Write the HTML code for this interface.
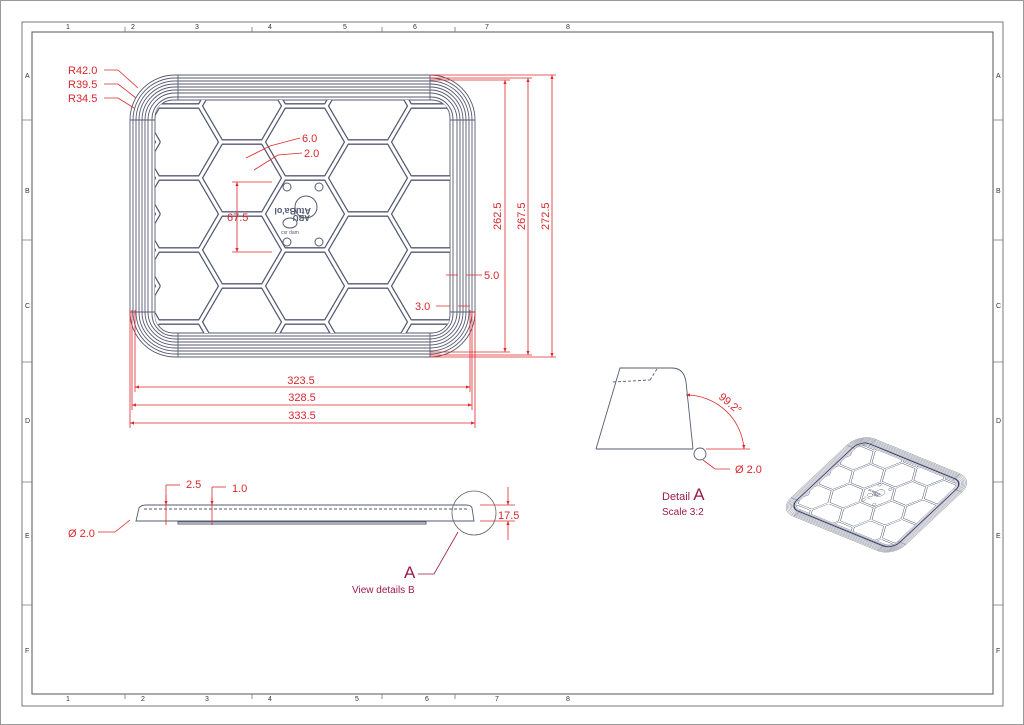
<!DOCTYPE html>
<html><head><meta charset="utf-8"><style>
html,body{margin:0;padding:0;background:#fff;}
svg{display:block;font-family:"Liberation Sans",sans-serif;}
.r{fill:#d9262c;font-size:11px;}
.m{fill:#9b1b4a;}
.dim{stroke:#e0282e;stroke-width:0.8;fill:none;}
.fr{fill:#333;font-size:7px;}
</style></head><body>
<svg width="1024" height="725" viewBox="0 0 1024 725" xmlns="http://www.w3.org/2000/svg">
<defs>
<marker id="ar" viewBox="0 0 10 10" refX="10" refY="5" markerWidth="7" markerHeight="5" orient="auto-start-reverse"><path d="M0,1 L10,5 L0,9z" fill="#e0282e"/></marker>
<clipPath id="cav"><rect x="155" y="100" width="295" height="233" rx="18"/></clipPath>
<g id="hc">
<g transform="translate(116,70)"><polygon id="hx" points="-42,0 -21,-36 21,-36 42,0 21,36 -21,36"/></g>
<use href="#hx" x="116" y="142"/><use href="#hx" x="116" y="214"/><use href="#hx" x="116" y="286"/><use href="#hx" x="116" y="358"/>
<use href="#hx" x="179" y="70"/><use href="#hx" x="179" y="142"/><use href="#hx" x="179" y="214"/><use href="#hx" x="179" y="286"/><use href="#hx" x="179" y="358"/>
<use href="#hx" x="242" y="34"/><use href="#hx" x="242" y="106"/><use href="#hx" x="242" y="178"/><use href="#hx" x="242" y="250"/><use href="#hx" x="242" y="322"/><use href="#hx" x="242" y="394"/>
<use href="#hx" x="305" y="70"/><use href="#hx" x="305" y="142"/><use href="#hx" x="305" y="214"/><use href="#hx" x="305" y="286"/><use href="#hx" x="305" y="358"/>
<use href="#hx" x="368" y="34"/><use href="#hx" x="368" y="106"/><use href="#hx" x="368" y="178"/><use href="#hx" x="368" y="250"/><use href="#hx" x="368" y="322"/><use href="#hx" x="368" y="394"/>
<use href="#hx" x="431" y="70"/><use href="#hx" x="431" y="142"/><use href="#hx" x="431" y="214"/><use href="#hx" x="431" y="286"/><use href="#hx" x="431" y="358"/>
<use href="#hx" x="494" y="34"/><use href="#hx" x="494" y="106"/><use href="#hx" x="494" y="178"/><use href="#hx" x="494" y="250"/><use href="#hx" x="494" y="322"/><use href="#hx" x="494" y="394"/>
</g>
<g id="tray">
<g fill="none" stroke="#555b72" stroke-width="0.9">
<rect x="130" y="75" width="345" height="282" rx="45"/>
<rect x="133" y="78" width="339" height="276" rx="42"/>
<rect x="136" y="81" width="333" height="270" rx="39"/>
<rect x="139" y="84" width="327" height="264" rx="36"/>
<rect x="142" y="87" width="321" height="258" rx="33"/>
<rect x="145" y="90" width="315" height="252" rx="30"/>
<rect x="148" y="93" width="309" height="246" rx="27"/>
<rect x="152" y="97" width="301" height="239" rx="22"/>
<rect x="155" y="100" width="295" height="233" rx="18"/>
<path d="M178,75 V100 M430,75 V100 M178,333 V357 M430,333 V357 M130,120 H155 M130,312 H155 M450,120 H475 M450,312 H475"/>
</g>
<g clip-path="url(#cav)" fill="none">
<use href="#hc" stroke="#555b72" stroke-width="5.5" stroke-linejoin="round"/>
<use href="#hc" stroke="#fff" stroke-width="3" stroke-linejoin="round"/>
</g>
<g fill="none" stroke="#555b72" stroke-width="1">
<circle cx="287" cy="187" r="4"/><circle cx="319" cy="187" r="4"/><circle cx="287" cy="242" r="4"/><circle cx="319" cy="242" r="4"/>
<circle cx="306" cy="207" r="11"/><ellipse cx="290" cy="223" rx="7" ry="5"/>
</g>
<text x="297" y="208" font-size="9" font-weight="bold" fill="#555b72" transform="rotate(180 304 208)">AtuBa'ol</text>
<text x="298" y="219" font-size="8" font-weight="bold" fill="#555b72" transform="rotate(180 304 217)">ABU</text>
<text x="281" y="234" font-size="5" fill="#555b72">csr dam</text>
</g>
</defs>

<!-- frame -->
<rect x="0.5" y="0.5" width="1023" height="724" fill="none" stroke="#999" stroke-width="1"/>
<rect x="22" y="22" width="981" height="684" fill="none" stroke="#777" stroke-width="1"/>
<rect x="32" y="32" width="961" height="662" fill="none" stroke="#555" stroke-width="1"/>
<g stroke="#777" stroke-width="0.8">
<path d="M125,27 V32 M252,27 V32 M382,27 V32 M455,27 V32 M125,694 V699 M252,694 V699 M382,694 V699 M455,694 V699"/>
<path d="M22,120 H32 M22,240 H32 M22,362 H32 M22,482 H32 M22,605 H32 M993,120 H1003 M993,240 H1003 M993,362 H1003 M993,482 H1003 M993,605 H1003"/>
</g>
<g class="fr">
<text x="66" y="29">1</text><text x="131" y="29">2</text><text x="195" y="29">3</text><text x="268" y="29">4</text><text x="343" y="29">5</text><text x="413" y="29">6</text><text x="485" y="29">7</text><text x="566" y="29">8</text>
<text x="66" y="701">1</text><text x="141" y="701">2</text><text x="205" y="701">3</text><text x="268" y="701">4</text><text x="355" y="701">5</text><text x="425" y="701">6</text><text x="495" y="701">7</text><text x="566" y="701">8</text>
<text x="25" y="78">A</text><text x="25" y="193">B</text><text x="25" y="308">C</text><text x="25" y="423">D</text><text x="25" y="538">E</text><text x="25" y="653">F</text>
<text x="996" y="78">A</text><text x="996" y="193">B</text><text x="996" y="308">C</text><text x="996" y="423">D</text><text x="996" y="538">E</text><text x="996" y="653">F</text>
</g>

<use href="#tray"/>

<!-- top view dims -->
<g class="dim">
<path d="M430,75 H556 M430,78 H532 M430,80 H510 M430,352 H510 M430,355 H532 M430,357 H556"/>
<path d="M505,80 V352" marker-start="url(#ar)" marker-end="url(#ar)"/>
<path d="M528,78 V355" marker-start="url(#ar)" marker-end="url(#ar)"/>
<path d="M552,75 V357" marker-start="url(#ar)" marker-end="url(#ar)"/>
<path d="M130,310 V428 M132,310 V410 M135,310 V392 M470,310 V392 M472,310 V410 M475,310 V428"/>
<path d="M135,387 H470" marker-start="url(#ar)" marker-end="url(#ar)"/>
<path d="M132,405 H472" marker-start="url(#ar)" marker-end="url(#ar)"/>
<path d="M130,423 H475" marker-start="url(#ar)" marker-end="url(#ar)"/>
<path d="M232,182 H272 M232,252 H272"/>
<path d="M237,182 V252" marker-start="url(#ar)" marker-end="url(#ar)"/>
<path d="M246,158 L270,146 L300,138"/>
<path d="M254,170 L278,155 L302,153"/>
<path d="M446,275 H458 M466,275 H482"/>
<path d="M436,306 H450 M458,306 H470"/>
<path d="M104,70 H118 L138,88 M104,84 H118 L136,98 M104,98 H118 L134,108"/>
</g>
<g class="r">
<text x="68" y="74">R42.0</text><text x="68" y="88">R39.5</text><text x="68" y="102">R34.5</text>
<text x="302" y="142">6.0</text><text x="304" y="157">2.0</text>
<text x="227" y="221">67.5</text>
<text x="484" y="279">5.0</text><text x="415" y="310">3.0</text>
<text x="301" y="384" text-anchor="middle">323.5</text>
<text x="302" y="401" text-anchor="middle">328.5</text>
<text x="302" y="419" text-anchor="middle">333.5</text>
<text transform="translate(501,230) rotate(-90)">262.5</text>
<text transform="translate(525,230) rotate(-90)">267.5</text>
<text transform="translate(549,230) rotate(-90)">272.5</text>
</g>

<!-- side view -->
<g fill="none" stroke="#555b72" stroke-width="0.9">
<path d="M136,521 L139,508 Q141,505 146,505 H466 Q471,505 472,508 L474,521 Z"/>
<path d="M144,509 H468" stroke-dasharray="3,2"/>
<path d="M178,522 H426 V524 H178Z"/>
<circle cx="474" cy="513" r="22" stroke="#666" stroke-width="0.8"/>
</g>
<g class="dim">
<path d="M166,495 V525 M212,497 V525"/>
<path d="M166,485 V505" marker-end="url(#ar)"/><path d="M166,485 H180"/>
<path d="M212,487 V505" marker-end="url(#ar)"/><path d="M212,487 H226"/>
<path d="M98,532 H115 L130,520"/>
<path d="M480,505 H515 M480,521 H515"/>
<path d="M508,487 V505" marker-end="url(#ar)"/><path d="M508,540 V521" marker-end="url(#ar)"/>
</g>
<path d="M418,574 H434 L458,532" fill="none" stroke="#9b1b4a" stroke-width="0.8"/>
<g class="r">
<text x="186" y="488">2.5</text><text x="232" y="492">1.0</text>
<text x="68" y="537">Ø 2.0</text>
<text x="498" y="519">17.5</text>
</g>
<text x="404" y="578" class="m" font-size="17">A</text>
<text x="352" y="593" class="m" font-size="10">View details B</text>

<!-- detail A -->
<g fill="none" stroke="#555b72" stroke-width="0.9">
<path d="M596,449 L620,368 H672 Q684,368 686,382 L693,449"/>
<path d="M596,449 H693"/>
<path d="M613,382 L650,380 M650,380 L657,369" stroke-dasharray="3,2"/>
<circle cx="700" cy="454" r="6"/>
</g>
<g class="dim">
<path d="M706,449 H750"/>
<path d="M686,395 A58,58 0 0 1 744,449" marker-start="url(#ar)" marker-end="url(#ar)"/>
<path d="M730,469 H715 L703,460" />
</g>
<text class="r" transform="translate(718,398) rotate(40)">99.2°</text>
<text class="r" x="735" y="473">Ø 2.0</text>
<text x="662" y="500" class="m" font-size="11">Detail <tspan font-size="17">A</tspan></text>
<text x="662" y="515" class="m" font-size="10">Scale 3:2</text>

<!-- iso view -->
<g transform="matrix(0.333,0.136,-0.291,0.273,838.5,394.8)">
<use href="#tray"/>
</g>
<g transform="matrix(0.333,0.136,-0.291,0.273,838.5,394.8)" fill="none" stroke="#3b4068" stroke-width="3">
<rect x="148" y="93" width="309" height="246" rx="27"/>
</g>
</svg>
</body></html>
